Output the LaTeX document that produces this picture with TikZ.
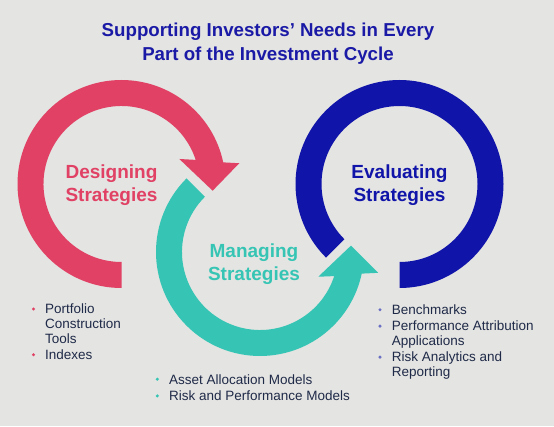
\documentclass[tikz,border=0pt]{standalone}
\usepackage{fontspec}
\setmainfont{Liberation Sans}
\usetikzlibrary{positioning,calc}
\definecolor{bgcol}{HTML}{E4E4E2}
\definecolor{designred}{HTML}{E04164}
\definecolor{manageteal}{HTML}{36C5B4}
\definecolor{evalblue}{HTML}{1014A8}
\definecolor{titleblue}{HTML}{1A1AA6}
\definecolor{listtext}{HTML}{1F2A48}
\definecolor{dotblue}{HTML}{6B70C4}

\begin{document}
\begin{tikzpicture}[x=1pt,y=1pt]
	\tikzstyle{stagename} =[font=\fontsize{19}{23.2}\selectfont\bfseries, align=center, inner sep=0pt, anchor=base];
	\tikzstyle{listitem} =[font=\fontsize{13.5}{14.6}\selectfont, text=listtext, align=left, anchor=base west, inner sep=0pt];
	\fill[bgcol] (0,0) rectangle (554,426);
	\useasboundingbox (0,0) rectangle (554,426);

	\node[font=\fontsize{18.7}{24.4}\selectfont\bfseries, text=titleblue, align=center, inner sep=0pt, anchor=base] (title) at (268,365) {Supporting Investors’ Needs in Every\\Part of the Investment Cycle};

	\coordinate (design) at (121.5,242);
	\coordinate (manage) at (260,174);
	\coordinate (evaluate) at (399.5,242);

	% the three rings
	\fill[designred] ($(design)+(270:78)$) -- ($(design)+(270:104)$) arc[start angle=270, end angle=12, radius=104]
		-- ($(design)+(10:119.6)$) -- ($(design)+(-4.2:91.4)$) -- ($(design)+(23.4:63)$)
		-- ($(design)+(18:78)$) arc[start angle=18, end angle=270, radius=78] -- cycle;
	\fill[manageteal] ($(manage)+(135:78)$) -- ($(manage)+(135:104)$) arc[start angle=135, end angle=348, radius=104]
		-- ($(manage)+(-10:120)$) -- ($(manage)+(4:91.2)$) -- ($(manage)+(-23:63.3)$)
		-- ($(manage)+(-18:78)$) arc[start angle=342, end angle=135, radius=78] -- cycle;
	\fill[evalblue] ($(evaluate)+(225:78)$) -- ($(evaluate)+(225:104)$) arc[start angle=225, end angle=-90, radius=104]
		-- ($(evaluate)+(-90:78)$) arc[start angle=-90, end angle=225, radius=78] -- cycle;

	\node[stagename, text=designred] (designing) at (111.5,224.3) {Designing\\Strategies};
	\node[stagename, text=manageteal] (managing) at (254,145) {Managing\\Strategies};
	\node[stagename, text=evalblue] (evaluating) at (399.5,224.3) {Evaluating\\Strategies};

	% bullet lists
	\node[listitem] (portfolio) at (45,83) {Portfolio\\Construction\\Tools};
	\node[listitem] (indexes) at (45,66.5) {Indexes};
	\node[listitem] (asset) at (169,42) {Asset Allocation Models};
	\node[listitem] (riskperf) at (169,25.3) {Risk and Performance Models};
	\node[listitem] (bench) at (391.7,111.5) {Benchmarks};
	\node[listitem] (attrib) at (391.7,80.5) {Performance Attribution\\Applications};
	\node[listitem] (riskana) at (391.7,49.5) {Risk Analytics and\\Reporting};

	\foreach \n in {portfolio,indexes}
		\fill[designred] (\n.north west) ++(-11.5,-5.2) circle (1.7);
	\foreach \n in {asset,riskperf}
		\fill[manageteal] (\n.north west) ++(-11.7,-5.2) circle (1.7);
	\foreach \n in {bench,attrib,riskana}
		\fill[dotblue] (\n.north west) ++(-11.7,-5.2) circle (1.7);
\end{tikzpicture}
\end{document}
